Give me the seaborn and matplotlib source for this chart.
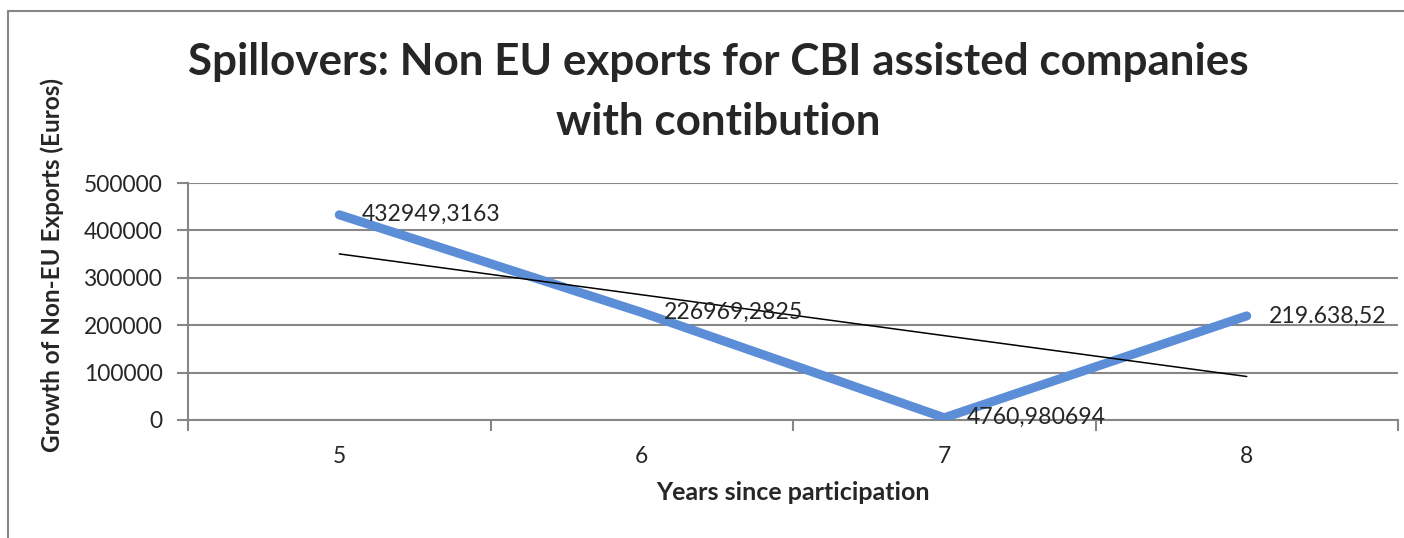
import numpy as np
import pandas as pd
import matplotlib
matplotlib.use("Agg")
import matplotlib.pyplot as plt
from matplotlib.lines import Line2D
import seaborn as sns

# ---------------- DATA ----------------
years = [5, 6, 7, 8]
exports = [432949.3163, 226969.2825, 4760.980694, 219638.52]
point_labels = ["432949,3163", "226969,2825", "4760,980694", "219.638,52"]
y_ticks = [0, 100000, 200000, 300000, 400000, 500000]

df = pd.DataFrame({"year": years, "exports": exports})

# ---------------- STYLE ----------------
sns.set_style("white")
plt.rcParams["font.family"] = ["Lato", "DejaVu Sans"]

W, H = 1404, 538
gray = "#878787"
blue = "#5B8ED6"

fig = plt.figure(figsize=(W / 100, H / 100), dpi=100)
ax = fig.add_axes([188 / W, 1 - 420 / H, 1210 / W, 237 / H])

# ---------------- LINES ----------------
sns.lineplot(data=df, x="year", y="exports", ax=ax, color=blue,
             linewidth=6.5, solid_capstyle="round", zorder=3)
# linear trendline like Excel
sns.regplot(data=df, x="year", y="exports", ax=ax, scatter=False, ci=None,
            truncate=True, line_kws={"color": "black", "linewidth": 1.1, "zorder": 4})

for x, y, lab in zip(years, exports, point_labels):
    ax.annotate(lab, (x, y), xytext=(16, 0), textcoords="offset points",
                ha="left", va="center", fontsize=16.6, zorder=5)

# ---------------- AXES ----------------
ax.set_xlim(4.5, 8.5)
ax.set_ylim(0, 500000)
ax.set_xticks(years)
ax.set_xticklabels([str(y) for y in years])
ax.set_xticks(np.arange(4.5, 9, 1), minor=True)
ax.set_yticks(y_ticks)
ax.set_yticklabels([str(t) for t in y_ticks])
ax.tick_params(axis="x", which="major", length=0, pad=19, labelsize=16.4)
ax.tick_params(axis="x", which="minor", bottom=True, length=8, width=1.5,
               color=gray, direction="out")
ax.tick_params(axis="y", left=True, length=8, width=1.5, color=gray,
               direction="out", pad=10, labelsize=16.4)
ax.yaxis.grid(True, color=gray, linewidth=1.5)
ax.set_axisbelow(True)
for side in ["top", "right"]:
    ax.spines[side].set_visible(False)
for side in ["left", "bottom"]:
    ax.spines[side].set_color(gray)
    ax.spines[side].set_linewidth(1.5)
ax.set_xlabel("")
ax.set_ylabel("")

# ---------------- TEXT ----------------
fig.text(718 / W, 1 - 62 / H, "Spillovers: Non EU exports for CBI assisted companies",
         ha="center", va="center", fontsize=31.7, fontweight="bold")
fig.text(718 / W, 1 - 122 / H, "with contibution",
         ha="center", va="center", fontsize=31.7, fontweight="bold")
fig.text(52 / W, 1 - 265 / H, "Growth of Non-EU Exports (Euros)", rotation=90,
         ha="center", va="center", fontsize=17.5, fontweight="bold")
fig.text(793 / W, 1 - 493 / H, "Years since participation",
         ha="center", va="center", fontsize=18, fontweight="bold")

# chart border (left and top visible)
fig.add_artist(Line2D([8 / W, 8 / W], [0, 1 - 11 / H], transform=fig.transFigure,
                      color=gray, linewidth=1.5))
fig.add_artist(Line2D([8 / W, 1], [1 - 11 / H, 1 - 11 / H], transform=fig.transFigure,
                      color=gray, linewidth=1.5))

fig.savefig("out.png", dpi=100)
